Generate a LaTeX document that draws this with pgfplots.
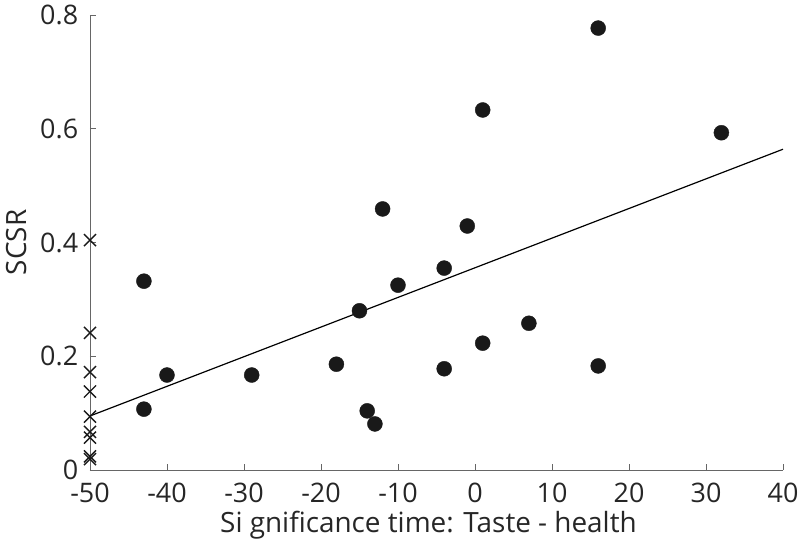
\documentclass[border=0pt]{standalone}
\usepackage{pgfplots}
\pgfplotsset{compat=1.18}
\usepackage{fontspec}
\setmainfont{Open Sans}
\begin{document}
\fontsize{26}{30}\selectfont
\begin{tikzpicture}
\path[use as bounding box] (-90bp,-73bp) rectangle (710bp,470bp);
\begin{axis}[
  at={(0,0)}, anchor=south west,
  scale only axis, width=693bp, height=455bp,
  xmin=-50, xmax=40, ymin=0, ymax=0.8,
  axis x line*=bottom, axis y line*=left,
  axis line style={gray!80!black, line width=0.8pt},
  xtick={-50,-40,...,40},
  ytick={0,0.2,0.4,0.6,0.8},
  yticklabels={0,0.2,0.4,0.6,0.8},
  tick style={gray!80!black, line width=0.8pt},
  major tick length=6bp,
  tick align=inside,
  /pgf/number format/assume math mode=true,
  ticklabel style={font=\fontsize{27}{30}\selectfont, text=black!85},
  xticklabel style={yshift=-4bp},
  yticklabel style={xshift=-3bp},
  xlabel={Si gnificance time: Taste - health},
  ylabel={SCSR},
  label style={font=\fontsize{28}{32}\selectfont, text=black!85},
  xlabel style={yshift=9bp, xshift=-8bp},
  ylabel style={yshift=-4bp},
  clip=false,
]
\addplot[only marks, mark=*, mark size=7.5bp, black!90, mark options={fill=black!90}] coordinates {
(-43,0.332) (-43,0.107) (-40,0.167) (-29,0.167) (-18,0.186) (-15,0.280)
(-14,0.104) (-13,0.081) (-12,0.459) (-10,0.325) (-4,0.355) (-4,0.178)
(-1,0.429) (1,0.633) (1,0.223) (7,0.258) (16,0.777) (16,0.183) (32,0.593)
};
\addplot[only marks, mark=x, mark size=8.5bp, black!90, line width=1.4pt] coordinates {
(-50,0.404) (-50,0.241) (-50,0.172) (-50,0.138) (-50,0.094) (-50,0.067)
(-50,0.057) (-50,0.024) (-50,0.019)
};
\addplot[black, line width=1.2pt] coordinates {(-50,0.095) (40,0.564)};
\end{axis}
\end{tikzpicture}
\end{document}
